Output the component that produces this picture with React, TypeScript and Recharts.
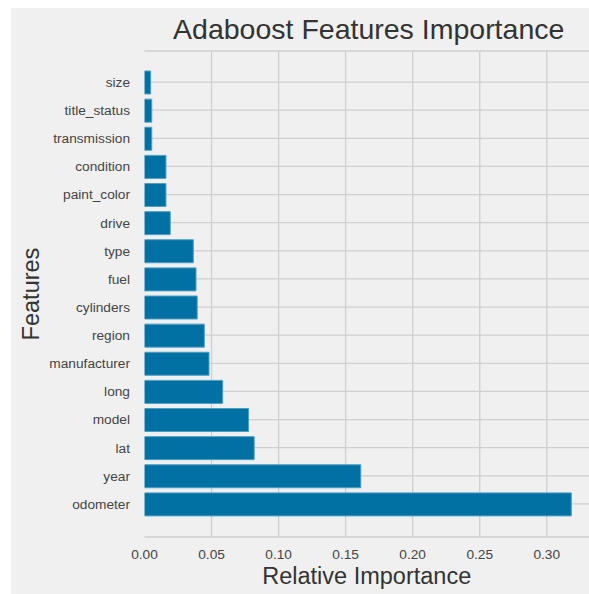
import { Bar, BarChart, CartesianGrid, XAxis, YAxis } from "recharts"

// feature names, top to bottom as drawn
const features = [
  "size",
  "title_status",
  "transmission",
  "condition",
  "paint_color",
  "drive",
  "type",
  "fuel",
  "cylinders",
  "region",
  "manufacturer",
  "long",
  "model",
  "lat",
  "year",
  "odometer",
]

const importance = [
  0.0046, 0.0054, 0.0054, 0.016, 0.016, 0.0192, 0.0364, 0.0384, 0.0393, 0.0446,
  0.0481, 0.0583, 0.0776, 0.0818, 0.1613, 0.3183,
]

const xTicks = [0, 0.05, 0.1, 0.15, 0.2, 0.25, 0.3]

const data = features.map((name, i) => ({ name, value: importance[i] }))

const FONT = '"Liberation Sans", Arial, sans-serif'

export default function App() {
  return (
    <div
      style={{
        position: "fixed",
        left: 11,
        top: 8,
        width: 578,
        height: 586,
        background: "#f0f0f0",
        fontFamily: FONT,
      }}
    >
      <svg width={578} height={45} style={{ position: "absolute", left: 0, top: 0 }}>
        <text x={357.7} y={31.3} textAnchor="middle" fontSize={28.5} fill="#333" fontFamily={FONT}>
          Adaboost Features Importance
        </text>
      </svg>
      <div style={{ position: "absolute", left: 0, top: 0 }}>
        <BarChart
          width={578}
          height={586}
          data={data}
          layout="vertical"
          margin={{ top: 43, right: 0, bottom: 0, left: 0 }}
        >
          <CartesianGrid
            stroke="#cfcfcf"
            strokeWidth={1.3}
            verticalValues={xTicks.slice(1)}
          />
          <XAxis
            type="number"
            domain={[0, 0.3315]}
            allowDataOverflow
            ticks={xTicks}
            tickFormatter={(v: number) => v.toFixed(2)}
            axisLine={false}
            tickLine={false}
            tickSize={0}
            tickMargin={12}
            height={57}
            tick={{ fill: "#444", fontSize: 13.7, fontFamily: FONT }}
            label={{
              value: "Relative Importance",
              position: "insideBottom",
              offset: 10,
              fill: "#333",
              fontSize: 23.5,
              fontFamily: FONT,
            }}
          />
          <YAxis
            type="category"
            dataKey="name"
            width={133.5}
            axisLine={false}
            tickLine={false}
            tickSize={0}
            tickMargin={14.5}
            interval={0}
            padding={{ top: 17, bottom: 19 }}
            tick={{ fill: "#444", fontSize: 13.7, fontFamily: FONT }}
            label={{
              value: "Features",
              angle: -90,
              position: "insideLeft",
              offset: 20,
              fill: "#333",
              fontSize: 23.5,
              fontFamily: FONT,
              style: { textAnchor: "middle" },
            }}
          />
          <Bar
            dataKey="value"
            fill="#0170a2"
            stroke="#4d9fc6"
            strokeWidth={1}
            barSize={23}
            isAnimationActive={false}
          />
        </BarChart>
      </div>
    </div>
  )
}
